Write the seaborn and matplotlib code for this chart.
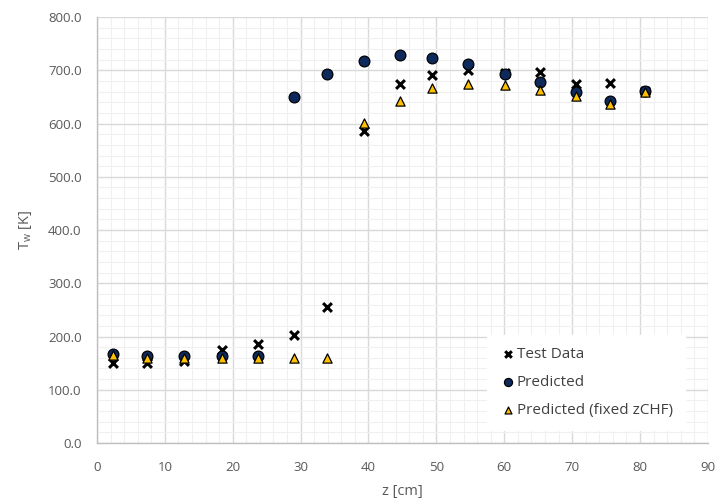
import seaborn as sns
import pandas as pd
import matplotlib.pyplot as plt
from matplotlib.ticker import MultipleLocator, FormatStrFormatter

# Dados
z = [2.4, 7.4, 12.8, 18.4, 23.7, 29.0, 33.9, 39.3, 44.7, 49.4, 54.6, 60.1, 65.2, 70.5, 75.6, 80.7]
test_data = [150, 150, 155, 175, 186, 203, 256, 587, 675, 692, 700, 695, 697, 675, 676, 662]
predicted = [168, 164, 164, 163, 164, 650, 694, 718, 729, 723, 712, 694, 678, 659, 642, 662]
predicted_fixed = [165, 160, 159, 159, 160, 160, 160, 601, 642, 667, 675, 672, 663, 651, 637, 660]

df = pd.DataFrame({'z': z, 'test': test_data, 'pred': predicted, 'fixed': predicted_fixed})

sns.set_style('white')
plt.rcParams['font.family'] = ['Open Sans', 'DejaVu Sans']

fig = plt.figure(figsize=(7.18, 5.04), dpi=100)
ax = fig.add_axes([0.135, 0.121, 0.851, 0.845])

sns.scatterplot(data=df, x='z', y='test', marker='x', color='black', s=40,
                linewidth=2.2, label='Test Data', ax=ax, zorder=3)
sns.scatterplot(data=df, x='z', y='pred', marker='o', color='#0E2A5C', edgecolor='black',
                s=60, linewidth=0.9, label='Predicted', ax=ax, zorder=4)
sns.scatterplot(data=df, x='z', y='fixed', marker='^', color='#FFC000', edgecolor='black',
                s=44, linewidth=0.9, label='Predicted (fixed zCHF)', ax=ax, zorder=5)

ax.set_xlim(0, 90)
ax.set_ylim(0, 800)
ax.xaxis.set_major_locator(MultipleLocator(10))
ax.xaxis.set_minor_locator(MultipleLocator(2))
ax.yaxis.set_major_locator(MultipleLocator(100))
ax.yaxis.set_minor_locator(MultipleLocator(20))
ax.yaxis.set_major_formatter(FormatStrFormatter('%.1f'))

ax.grid(which='major', color='#D9D9D9', linewidth=1.0, zorder=0)
ax.grid(which='minor', color='#F0F0F0', linewidth=0.8, zorder=0)
ax.set_axisbelow(True)

for side in ['top', 'right']:
    ax.spines[side].set_visible(False)
for side in ['left', 'bottom']:
    ax.spines[side].set_color('#BFBFBF')
    ax.spines[side].set_linewidth(1.0)

ax.tick_params(axis='y', which='both', length=0, labelsize=9.5, labelcolor='#595959', pad=11)
ax.tick_params(axis='x', which='both', length=0, labelsize=9.5, labelcolor='#595959', pad=13)
ax.set_xlabel('z [cm]', fontsize=10.5, color='#595959', labelpad=7)
ax.set_ylabel('T$_\\mathregular{w}$ [K]', fontsize=10.5, color='#595959', labelpad=10)

leg = ax.legend(loc='lower right', bbox_to_anchor=(0.975, 0.012), frameon=True,
                fontsize=11, handletextpad=0.05, labelspacing=0.85, borderpad=0.8,
                handlelength=1.1, markerscale=0.75)
leg.get_frame().set_facecolor('white')
leg.get_frame().set_edgecolor('white')
leg.get_frame().set_alpha(1.0)
for t in leg.get_texts():
    t.set_color('#404040')

plt.savefig('out.png', dpi=100)
